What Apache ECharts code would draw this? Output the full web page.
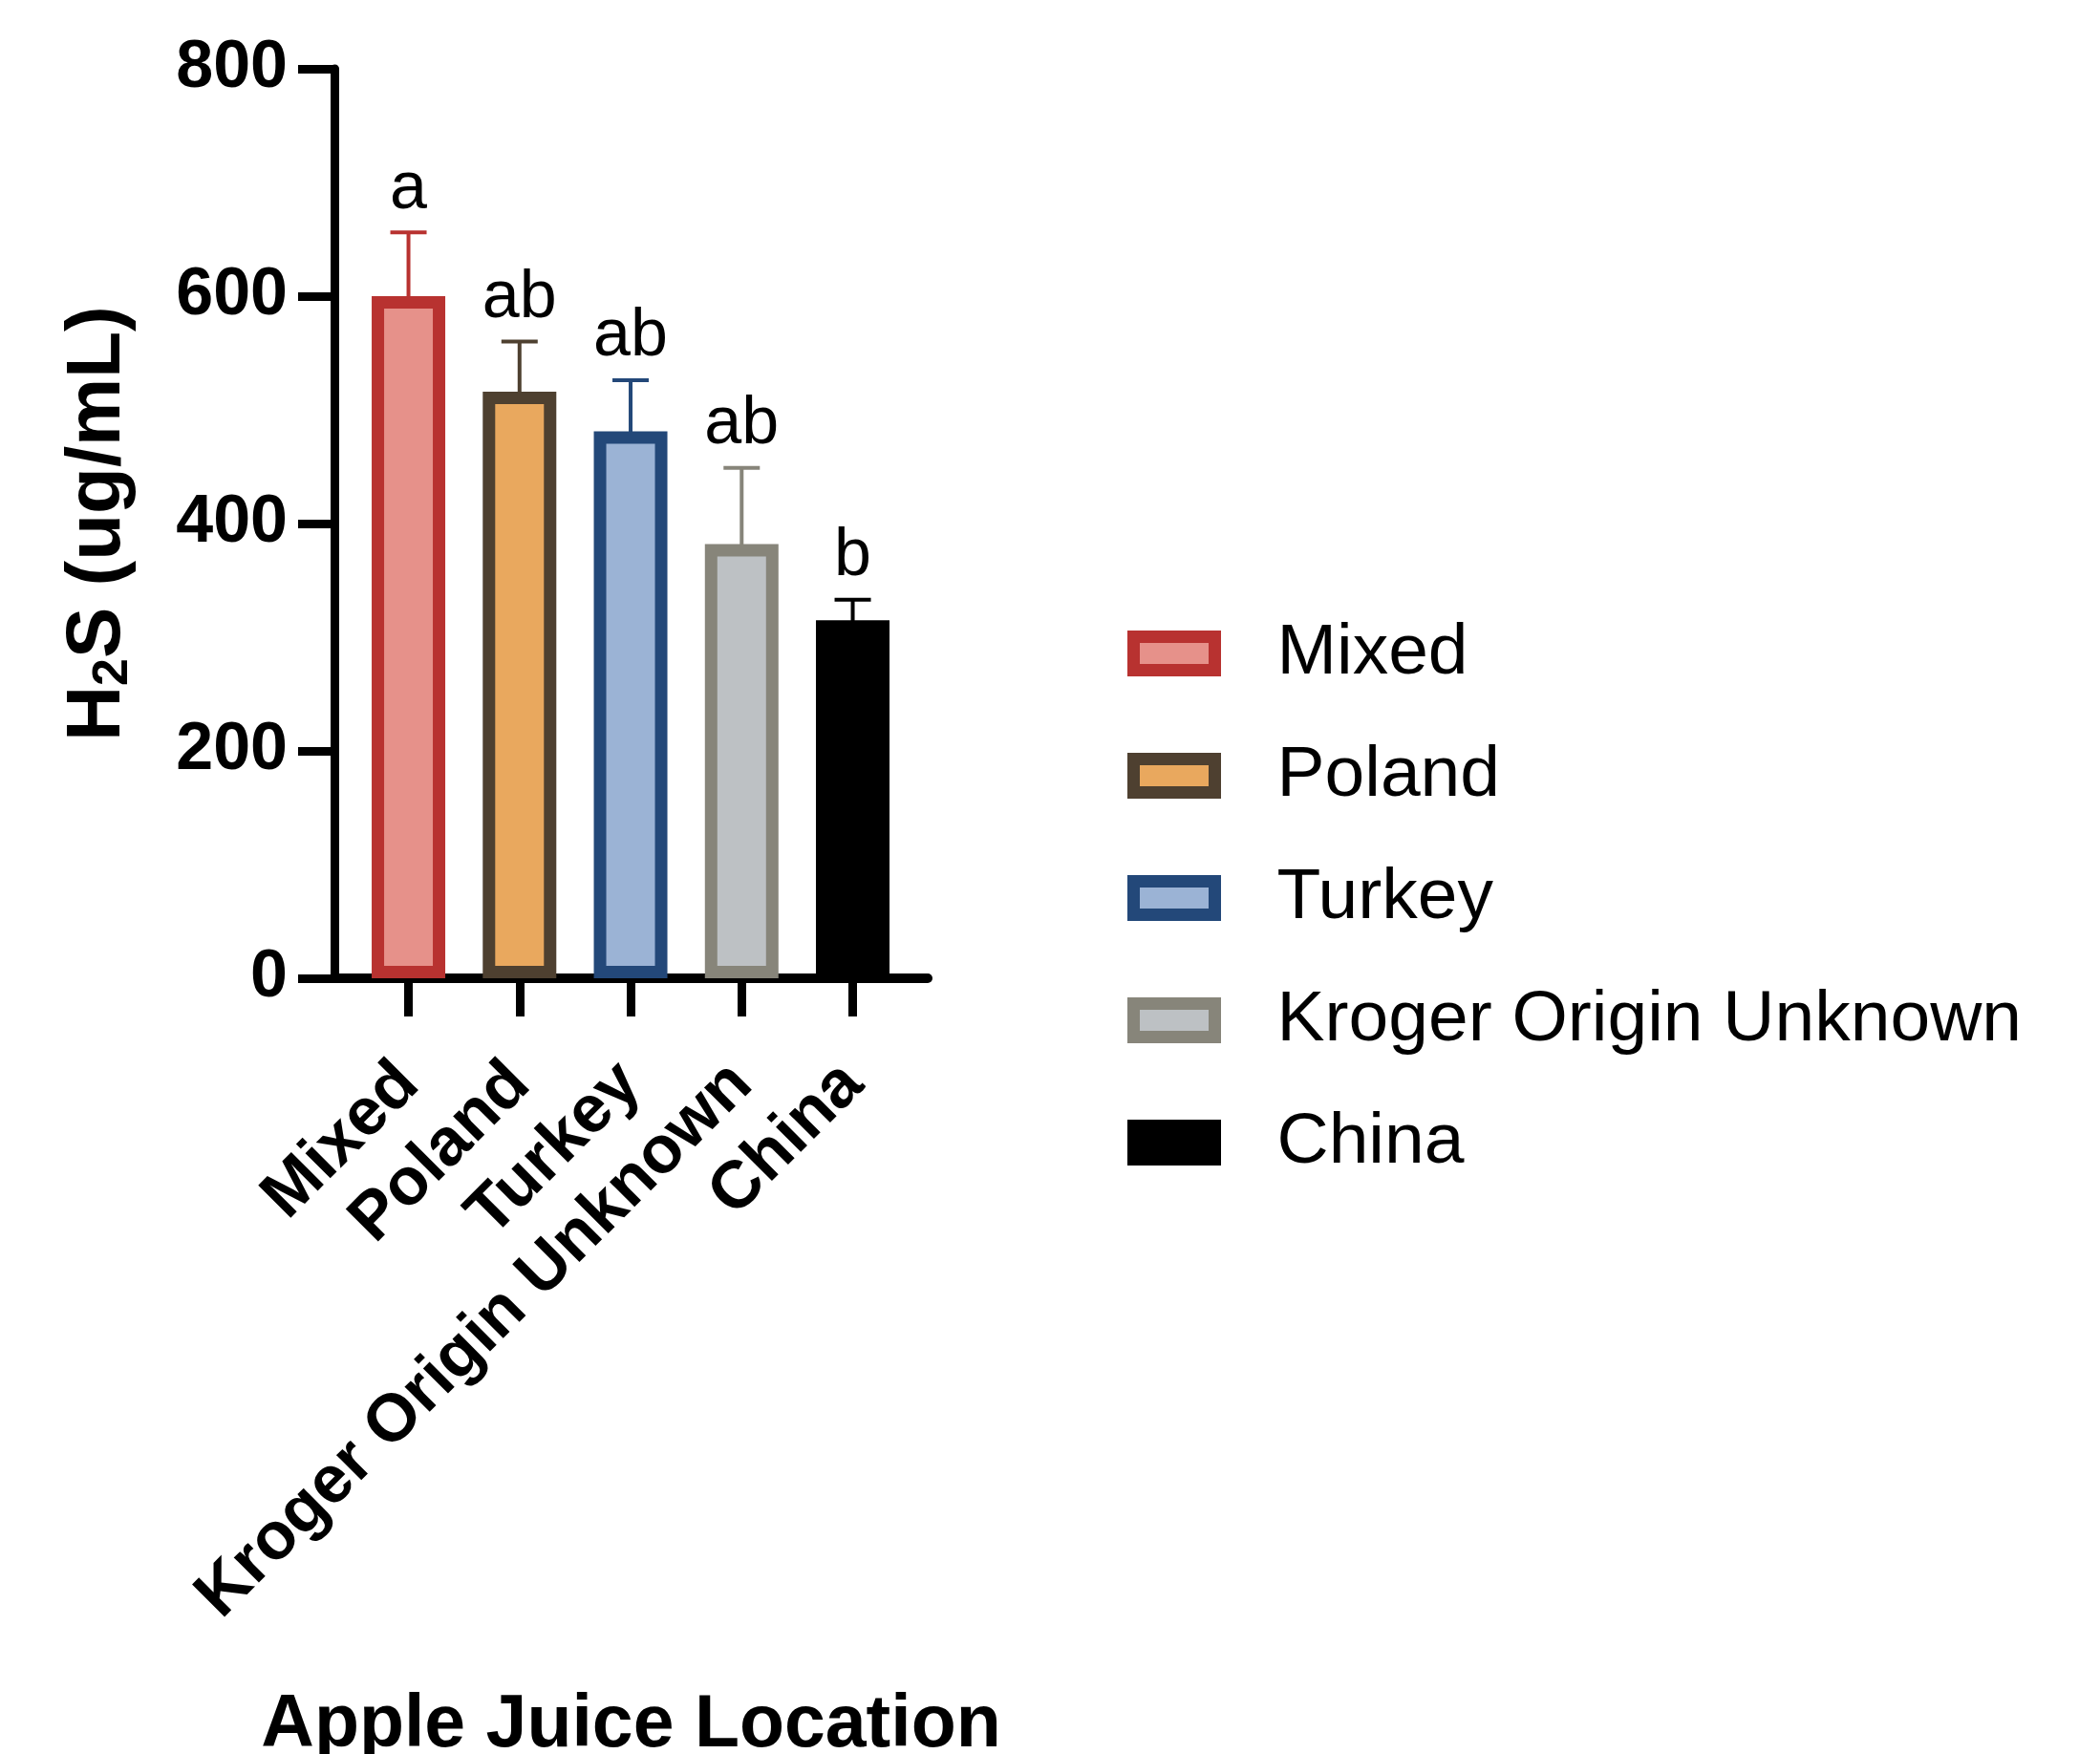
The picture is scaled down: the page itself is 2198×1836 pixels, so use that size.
<!DOCTYPE html>
<html>
<head>
<meta charset="utf-8">
<script src="https://cdn.jsdelivr.net/npm/echarts@6/dist/echarts.min.js"></script>
<style>
  html, body { margin: 0; padding: 0; background: #ffffff; }
  #chart { width: 2198px; height: 1836px; }
</style>
</head>
<body>
<div id="chart"></div>
<script>
// H2S content of apple juice by origin: mean, SD and significance groups
const categories = ['Mixed', 'Poland', 'Turkey', 'Kroger Origin Unknown', 'China'];
const meanValues = [600, 516, 481, 382, 315];
const sdValues = [56, 44, 45, 67, 18];
const groupLetters = ['a', 'ab', 'ab', 'ab', 'b'];
const yTicks = [0, 200, 400, 600, 800];

const fillColors = ['#E6918A', '#E9A85E', '#9BB3D5', '#BDC1C4', '#000000'];
const edgeColors = ['#B83230', '#4E4030', '#234879', '#87857A', '#000000'];

const FONT = '"Liberation Sans", Arial, Helvetica, sans-serif';
const positions = categories.map((c, i) => i);

const chart = echarts.init(document.getElementById('chart'), null, { renderer: 'canvas' });

const barSeries = categories.map((name, i) => ({
  type: 'bar',
  name: name,
  barWidth: 77,
  barGap: '-100%',
  z: 2,
  silent: true,
  data: [[positions[i], meanValues[i]]],
  itemStyle: { color: fillColors[i], borderColor: edgeColors[i], borderWidth: 13 }
}));

// error bars (upper whisker + cap) and group letters
const errorSeries = {
  type: 'custom',
  z: 1,
  silent: true,
  data: categories.map((c, i) => [positions[i], meanValues[i], meanValues[i] + sdValues[i]]),
  renderItem: function (params, api) {
    const i = params.dataIndex;
    const base = api.coord([api.value(0), api.value(1)]);
    const top = api.coord([api.value(0), api.value(2)]);
    const half = 19;
    const col = edgeColors[i];
    return {
      type: 'group',
      children: [
        { type: 'line', shape: { x1: base[0], y1: base[1] + 8, x2: top[0], y2: top[1] },
          style: { stroke: col, lineWidth: 4 } },
        { type: 'line', shape: { x1: top[0] - half, y1: top[1], x2: top[0] + half, y2: top[1] },
          style: { stroke: col, lineWidth: 4 } },
        { type: 'text', x: top[0], y: top[1] - 10,
          style: { text: groupLetters[i], fontSize: 70, fontFamily: FONT, fill: '#000',
                   align: 'center', verticalAlign: 'bottom' } }
      ]
    };
  }
};

const option = {
  animation: false,
  backgroundColor: '#ffffff',
  grid: { left: 350, right: 1227, top: 72, bottom: 812, containLabel: false, outerBoundsMode: 'none' },
  xAxis: {
    type: 'value',
    min: -0.667,
    max: 4.675,
    splitLine: { show: false },
    axisLine: { show: true, onZero: true, lineStyle: { color: '#000', width: 10 } },
    axisTick: { show: true, customValues: positions, length: 40, lineStyle: { color: '#000', width: 9 } },
    axisLabel: {
      show: true,
      customValues: positions,
      formatter: function (v) { return categories[Math.round(v)]; },
      rotate: 45,
      margin: 100,
      fontSize: 70,
      fontWeight: 'bold',
      fontFamily: FONT,
      color: '#000'
    },
    name: 'Apple Juice Location',
    nameLocation: 'middle',
    nameGap: 744,
    nameMoveOverlap: false,
    nameTextStyle: { fontSize: 77, fontWeight: 'bold', fontFamily: FONT, color: '#000' }
  },
  yAxis: {
    type: 'value',
    min: 0,
    max: 800,
    interval: 200,
    splitLine: { show: false },
    axisLine: { show: true, onZero: false, lineStyle: { color: '#000', width: 9 } },
    axisTick: { show: true, length: 38, lineStyle: { color: '#000', width: 9 } },
    axisLabel: {
      margin: 49,
      fontSize: 70,
      fontWeight: 'bold',
      fontFamily: FONT,
      color: '#000',
      formatter: function (v) { return yTicks.indexOf(v) >= 0 ? String(v) : ''; }
    },
    name: '{b|H}{s|2}{b|S (ug/mL)}',
    nameLocation: 'middle',
    nameRotate: 90,
    nameGap: 205,
    nameMoveOverlap: false,
    nameTextStyle: {
      color: '#000',
      rich: {
        b: { fontSize: 80, fontWeight: 'bold', fontFamily: FONT, color: '#000', lineHeight: 84 },
        s: { fontSize: 52, fontWeight: 'bold', fontFamily: FONT, color: '#000', lineHeight: 46, verticalAlign: 'bottom' }
      }
    }
  },
  legend: {
    orient: 'vertical',
    left: 1180,
    top: 645,
    padding: 0,
    icon: 'rect',
    itemWidth: 85,
    itemHeight: 35,
    itemGap: 50,
    selectedMode: false,
    itemStyle: { borderWidth: 13 },
    textStyle: { fontSize: 75, fontFamily: FONT, color: '#000', lineHeight: 78, padding: [0, 0, 0, 60] },
    data: categories
  },
  series: [errorSeries].concat(barSeries)
};

chart.setOption(option);
</script>
</body>
</html>
